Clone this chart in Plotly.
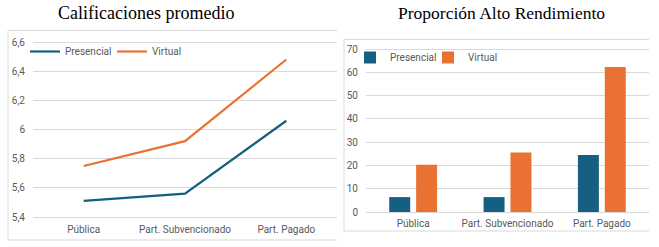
import plotly.graph_objects as go

categories = ["Pública", "Part. Subvencionado", "Part. Pagado"]
presencial_prom = [5.51, 5.56, 6.06]
virtual_prom = [5.75, 5.92, 6.48]
presencial_alto = [6.4, 6.4, 24.5]
virtual_alto = [20.3, 25.5, 62.3]
series_names = ["Presencial", "Virtual"]
title_left = "Calificaciones promedio"
title_right = "Proporción Alto Rendimiento"

W, H = 659, 247
C_PRES = "#156082"
C_VIRT = "#E97132"
GRID = "#d9d9d9"
TXT = "#595959"
TICKFONT = dict(family="Roboto, Liberation Sans, sans-serif", size=10, color=TXT)


def px(x):
    return x / W


def py(y):
    return 1 - y / H


fig = go.Figure()
fig.add_trace(go.Scatter(x=categories, y=presencial_prom, name=series_names[0], mode="lines",
                         line=dict(color=C_PRES, width=2.2), xaxis="x", yaxis="y", legend="legend"))
fig.add_trace(go.Scatter(x=categories, y=virtual_prom, name=series_names[1], mode="lines",
                         line=dict(color=C_VIRT, width=2.2), xaxis="x", yaxis="y", legend="legend"))
fig.add_trace(go.Bar(x=categories, y=presencial_alto, name=series_names[0], marker=dict(color=C_PRES, line=dict(width=0)),
                     xaxis="x2", yaxis="y2", legend="legend2"))
fig.add_trace(go.Bar(x=categories, y=virtual_alto, name=series_names[1], marker=dict(color=C_VIRT, line=dict(width=0)),
                     xaxis="x2", yaxis="y2", legend="legend2"))

# left line chart: 6.6 at y=42, 5.4 at y=217
unit = (217 - 42) / 1.2
top_px, bot_px = 38, 222
y_top = 6.6 + (42 - top_px) / unit
y_bot = 5.4 - (bot_px - 217) / unit

# right bar chart: 0 at y=212, 70 at y=49
unit2 = (212 - 49) / 70
top2, bot2 = 44, 216
y2_top = (212 - top2) / unit2
y2_bot = -(bot2 - 212) / unit2

shapes = []
def box(x0, y0, x1, y1):
    shapes.append(dict(type="path", xref="paper", yref="paper",
                       path=f"M {px(x1)},{py(y0)} L {px(x0)},{py(y0)} L {px(x0)},{py(y1)} L {px(x1)},{py(y1)}",
                       line=dict(color=GRID, width=1)))

box(8, 30.5, 337, 240)
box(344, 39.5, 649, 231)

fig.update_layout(
    width=W, height=H,
    margin=dict(l=0, r=0, t=0, b=0),
    paper_bgcolor="white", plot_bgcolor="white",
    showlegend=True,
    barmode="group", bargap=0.43, bargroupgap=0.22,
    shapes=shapes,
    xaxis=dict(domain=[px(33), px(337)], anchor="y", range=[-0.5, 2.5], showgrid=False, showline=False,
               ticks="", tickfont=TICKFONT, fixedrange=True, automargin=False),
    yaxis=dict(domain=[py(bot_px), py(top_px)], anchor="x", range=[y_bot, y_top],
               tickvals=[5.4, 5.6, 5.8, 6.0, 6.2, 6.4, 6.6],
               ticktext=["5,4", "5,6", "5,8", "6", "6,2", "6,4", "6,6"],
               showgrid=True, gridcolor=GRID, gridwidth=1, zeroline=False, showline=False,
               tickfont=TICKFONT, ticklabelstandoff=7, automargin=False),
    xaxis2=dict(domain=[px(366), px(649)], anchor="y2", showgrid=False, showline=False, ticks="",
                tickfont=TICKFONT, automargin=False),
    yaxis2=dict(domain=[py(bot2), py(top2)], anchor="x2", range=[y2_bot, y2_top],
                tickvals=[0, 10, 20, 30, 40, 50, 60, 70],
                showgrid=True, gridcolor=GRID, gridwidth=1, zeroline=True, zerolinecolor=GRID,
                zerolinewidth=1, showline=False, tickfont=TICKFONT, ticklabelstandoff=7, automargin=False),
    legend=dict(orientation="h", x=px(25), y=py(37), xanchor="left", yanchor="top",
                font=TICKFONT, bgcolor="rgba(0,0,0,0)", itemwidth=30, tracegroupgap=0, entrywidth=42),
    legend2=dict(orientation="h", x=px(350), y=py(43), xanchor="left", yanchor="top",
                 font=TICKFONT, bgcolor="rgba(0,0,0,0)", itemwidth=30, tracegroupgap=0, entrywidth=33),
    annotations=[
        dict(text=title_left, x=px(146), y=py(13), xref="paper", yref="paper", showarrow=False,
             xanchor="center", yanchor="middle",
             font=dict(family="Liberation Serif, serif", size=18, color="black")),
        dict(text=title_right, x=px(501), y=py(13), xref="paper", yref="paper", showarrow=False,
             xanchor="center", yanchor="middle",
             font=dict(family="Liberation Serif, serif", size=17.5, color="black")),
    ],
)

fig.write_html("out.html", config={"displayModeBar": False},
               post_script="document.body.style.margin='0px';")
